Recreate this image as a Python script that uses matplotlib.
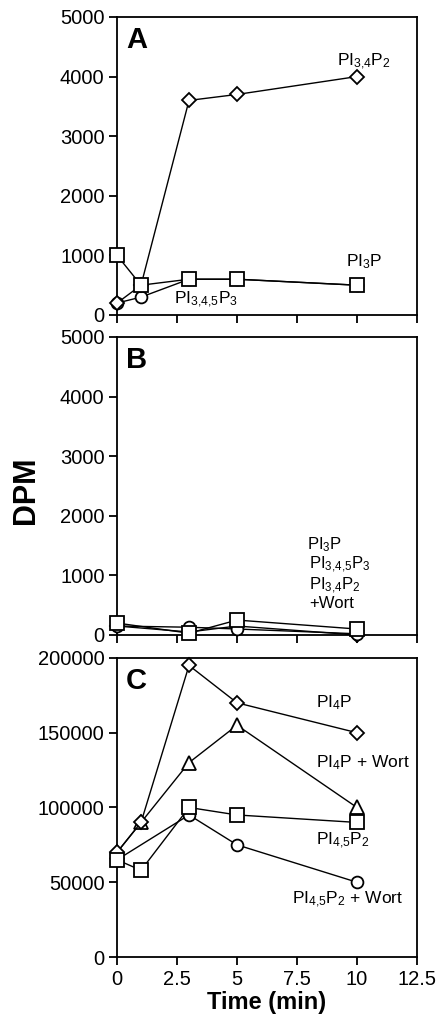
import matplotlib
matplotlib.use("Agg")
import matplotlib.pyplot as plt

plt.rcParams['font.family'] = ['Liberation Sans', 'DejaVu Sans']
plt.rcParams['mathtext.fontset'] = 'custom'
plt.rcParams['mathtext.rm'] = 'Liberation Sans'
plt.rcParams['mathtext.default'] = 'rm'

# ---- Data ----
# Panel A
time_a = [0, 1, 3, 5, 10]
a_pi34p2 = [200, 500, 3600, 3700, 4000]
a_pi3p = [1000, 500, 600, 600, 500]
a_pi345p3 = [200, 300, 600, 600, 500]

# Panel B (+ wortmannin)
time_b = [0, 3, 5, 10]
b_pi3p = [200, 30, 250, 100]
b_pi345p3 = [150, 130, 100, 20]
b_pi34p2 = [150, 50, 150, 0]

# Panel C
time_c = [0, 1, 3, 5, 10]
c_pi4p = [70000, 90000, 195000, 170000, 150000]
c_pi4p_wort = [70000, 90000, 130000, 155000, 100000]
c_pi45p2 = [65000, 58000, 100000, 95000, 90000]
time_c_circ = [0, 3, 5, 10]
c_pi45p2_wort = [65000, 95000, 75000, 50000]

xticks = [0, 2.5, 5, 7.5, 10, 12.5]
xticklabels = ['0', '2.5', '5', '7.5', '10', '12.5']
ab_yticks = [0, 1000, 2000, 3000, 4000, 5000]
c_yticks = [0, 50000, 100000, 150000, 200000]

fig = plt.figure(figsize=(4.45, 10.22), dpi=100)
L, W = 0.263, 0.674
axA = fig.add_axes([L, 0.6918, W, 0.2916])
axB = fig.add_axes([L, 0.3787, W, 0.2916])
axC = fig.add_axes([L, 0.0636, W, 0.2926])

lw = 1.0
mew = 1.3
common = dict(color='black', lw=lw, markerfacecolor='white', markeredgecolor='black',
              markeredgewidth=mew, clip_on=False)
sq = dict(marker='s', markersize=10)
di = dict(marker='D', markersize=7.5)
ci = dict(marker='o', markersize=8.5)
tr = dict(marker='^', markersize=10)

# Panel A
axA.plot(time_a, a_pi345p3, **common, **ci, zorder=3)
axA.plot(time_a, a_pi34p2, **common, **di, zorder=4)
axA.plot(time_a, a_pi3p, **common, **sq, zorder=5)

# Panel B
axB.plot(time_b, b_pi34p2, **common, **di, zorder=3)
axB.plot(time_b, b_pi345p3, **common, **ci, zorder=4)
axB.plot(time_b, b_pi3p, **common, **sq, zorder=5)

# Panel C
axC.plot(time_c_circ, c_pi45p2_wort, **common, **ci, zorder=3)
axC.plot(time_c, c_pi4p_wort, **common, **tr, zorder=4)
axC.plot(time_c, c_pi4p, **common, **di, zorder=5)
axC.plot(time_c, c_pi45p2, **common, **sq, zorder=6)

for ax in (axA, axB, axC):
    ax.set_xlim(0, 12.5)
    ax.set_xticks(xticks)
    ax.tick_params(direction='out', length=6, width=1.3, labelsize=14.5, pad=3)
    for s in ax.spines.values():
        s.set_linewidth(1.3)

axA.set_ylim(0, 5000)
axB.set_ylim(0, 5000)
axC.set_ylim(0, 200000)
axA.set_yticks(ab_yticks)
axB.set_yticks(ab_yticks)
axC.set_yticks(c_yticks)
axA.set_xticklabels([])
axB.set_xticklabels([])
axC.set_xticklabels(xticklabels)

fs = 12.5
axA.text(0.03, 0.97, 'A', transform=axA.transAxes, fontsize=21, fontweight='bold', va='top', ha='left')
axB.text(0.03, 0.97, 'B', transform=axB.transAxes, fontsize=21, fontweight='bold', va='top', ha='left')
axC.text(0.03, 0.97, 'C', transform=axC.transAxes, fontsize=21, fontweight='bold', va='top', ha='left')

axA.text(10.3, 4250, r'PI$_{3{,}4}$P$_2$', fontsize=fs, ha='center', va='center')
axA.text(10.3, 900, r'PI$_3$P', fontsize=fs, ha='center', va='center')
axA.text(3.7, 250, r'PI$_{3{,}4{,}5}$P$_3$', fontsize=fs, ha='center', va='center')

fsb = 12
axB.text(7.9, 1520, r'PI$_3$P', fontsize=fsb, ha='left', va='center')
axB.text(8.0, 1170, r'PI$_{3{,}4{,}5}$P$_3$', fontsize=fsb, ha='left', va='center')
axB.text(8.0, 830, r'PI$_{3{,}4}$P$_2$', fontsize=fsb, ha='left', va='center')
axB.text(8.0, 520, '+Wort', fontsize=fsb, ha='left', va='center')

axC.text(8.3, 170000, r'PI$_4$P', fontsize=fs, ha='left', va='center')
axC.text(8.3, 130000, r'PI$_4$P + Wort', fontsize=fs, ha='left', va='center')
axC.text(8.3, 78000, r'PI$_{4{,}5}$P$_2$', fontsize=fs, ha='left', va='center')
axC.text(7.3, 38000, r'PI$_{4{,}5}$P$_2$ + Wort', fontsize=fs, ha='left', va='center')

fig.text(0.058, 0.52, 'DPM', rotation=90, fontsize=22, fontweight='bold', ha='center', va='center')
axC.set_xlabel('Time (min)', fontsize=17, fontweight='bold', labelpad=2)

fig.savefig('out.png', dpi=100)
